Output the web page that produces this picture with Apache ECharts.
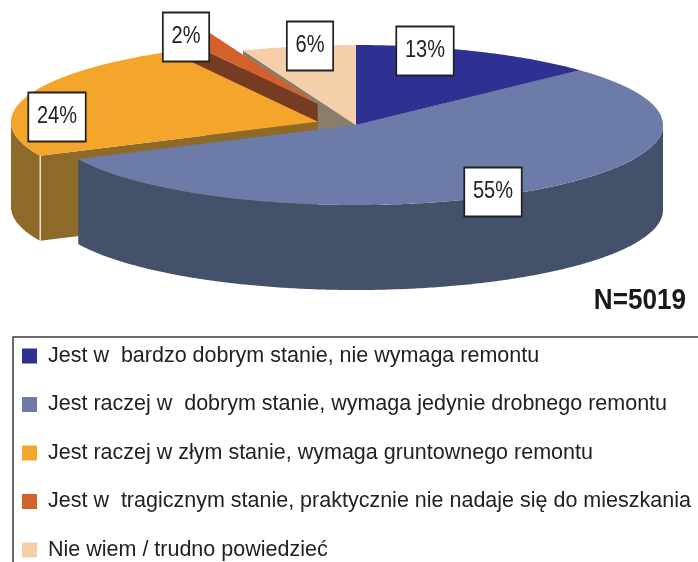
<!DOCTYPE html>
<html>
<head>
<meta charset="utf-8">
<script src="https://cdn.jsdelivr.net/npm/echarts@6/dist/echarts.min.js"></script>
<style>
  html, body { margin: 0; padding: 0; background: #fff; }
  #chart { width: 698px; height: 562px; }
</style>
</head>
<body>
<div id="chart"></div>
<script>
// dane wykresu
var categories = [
    'Jest w  bardzo dobrym stanie, nie wymaga remontu',
    'Jest raczej w  dobrym stanie, wymaga jedynie drobnego remontu',
    'Jest raczej w złym stanie, wymaga gruntownego remontu',
    'Jest w  tragicznym stanie, praktycznie nie nadaje się do mieszkania',
    'Nie wiem / trudno powiedzieć'
];
var values = [13, 55, 24, 2, 6];
var sampleText = 'N=5019';

// wyglad
var topColors = ['#2E3192', '#6C7BA8', '#F4A52B', '#D4602C', '#F5CEAA'];
var sideColors = ['#1E2066', '#44516B', '#8E6A28', '#773A22', '#8B7D6C'];
var explode = [0, 0, 40, 90, 0];
var labelPos = [[425, 51], [493, 192], [57, 117], [186, 37], [310, 46]];

var total = values.reduce(function (a, b) { return a + b; }, 0);
var starts = [];
var acc = 0;
values.forEach(function (v) { starts.push(acc); acc += v; });

// geometria "3D" tortu
var CX = 356, CY = 125, RX = 307, RY = 80, DEPTH = 85;

function P(a, ox, oy, dz) {
    return [CX + ox + RX * Math.sin(a), CY + oy - RY * Math.cos(a) + dz];
}
function arc(a0, a1, ox, oy, dz) {
    var pts = [];
    var n = Math.max(2, Math.ceil((a1 - a0) / 0.01));
    for (var k = 0; k <= n; k++) {
        pts.push(P(a0 + (a1 - a0) * k / n, ox, oy, dz));
    }
    return pts;
}
function poly(points, fill, z2) {
    return { type: 'polygon', z2: z2, shape: { points: points }, style: { fill: fill } };
}

function makeRender(i) {
    return function (params, api) {
        var v = api.value(0), s = api.value(1);
        var a0 = s / total * Math.PI * 2;
        var a1 = (s + v) / total * Math.PI * 2;
        var am = (a0 + a1) / 2;
        var d = explode[i];
        var ox = d * Math.sin(am), oy = -d * Math.cos(am) * RY / RX;
        var c = [CX + ox, CY + oy];
        var cb = [c[0], c[1] + DEPTH];
        var children = [];
        // wysuniete kawalki rysowane przed reszta; mniej wysuniete z przodu
        var faceZ = d > 0 ? 2 + (100 - d) / 1000 : 1;

        // sciany promieniowe (tylko widoczne)
        if (Math.sin(a0) < -1e-6) {
            children.push(poly([c, P(a0, ox, oy, 0), P(a0, ox, oy, DEPTH), cb], sideColors[i], faceZ));
        }
        if (Math.sin(a1) > 1e-6) {
            children.push(poly([c, P(a1, ox, oy, 0), P(a1, ox, oy, DEPTH), cb], sideColors[i], faceZ));
        }
        // sciana zewnetrzna - przednia czesc
        var w0 = Math.max(a0, Math.PI / 2), w1 = Math.min(a1, Math.PI * 1.5);
        if (w1 > w0) {
            var top = arc(w0, w1, ox, oy, 0);
            var bot = arc(w0, w1, ox, oy, DEPTH).reverse();
            children.push(poly(top.concat(bot), sideColors[i], 3));
            if (d > 0 && a0 >= Math.PI / 2) {
                var p1 = P(a0, ox, oy, 0), p2 = P(a0, ox, oy, DEPTH);
                children.push({
                    type: 'line', z2: 3,
                    shape: { x1: p1[0], y1: p1[1], x2: p2[0], y2: p2[1] },
                    style: { stroke: '#ffffff', lineWidth: 1.2 }
                });
            }
        }
        // gorna powierzchnia
        children.push(poly([c].concat(arc(a0, a1, ox, oy, 0)), api.visual('color'), 4));

        // etykieta
        children.push({
            type: 'text', z2: 10,
            x: labelPos[i][0], y: labelPos[i][1],
            scaleX: 0.87,
            style: {
                text: v + '%',
                fontSize: 23,
                fontFamily: 'Liberation Sans, Arial, sans-serif',
                fill: '#222',
                align: 'center',
                verticalAlign: 'middle',
                lineHeight: 23,
                backgroundColor: '#fff',
                borderColor: '#222',
                borderWidth: 2,
                padding: [12, 9, 12, 9]
            }
        });
        return { type: 'group', children: children };
    };
}

var chart = echarts.init(document.getElementById('chart'));

var series = categories.map(function (name, i) {
    return {
        name: name,
        type: 'custom',
        coordinateSystem: 'none',
        itemStyle: { color: topColors[i] },
        data: [[values[i], starts[i]]],
        renderItem: makeRender(i)
    };
});

var option = {
    animation: false,
    legend: {
        orient: 'vertical',
        left: 13,
        top: 337,
        height: 240,
        padding: [8, 20, 20, 9],
        itemWidth: 15,
        itemHeight: 15,
        itemGap: 26.5,
        icon: 'rect',
        selectedMode: false,
        borderColor: '#3a3a3a',
        borderWidth: 1.5,
        textStyle: {
            fontSize: 21.5,
            lineHeight: 20,
            color: '#222',
            fontFamily: 'Liberation Sans, Arial, sans-serif',
            padding: [0, 0, 0, 6]
        },
        data: categories
    },
    graphic: [{
        type: 'text',
        x: 686,
        y: 301,
        scaleX: 0.87,
        style: {
            text: sampleText,
            font: 'bold 30px "Liberation Sans", Arial, sans-serif',
            fill: '#1a1a1a',
            align: 'right',
            verticalAlign: 'middle'
        }
    }],
    series: series
};

chart.setOption(option);
</script>
</body>
</html>
